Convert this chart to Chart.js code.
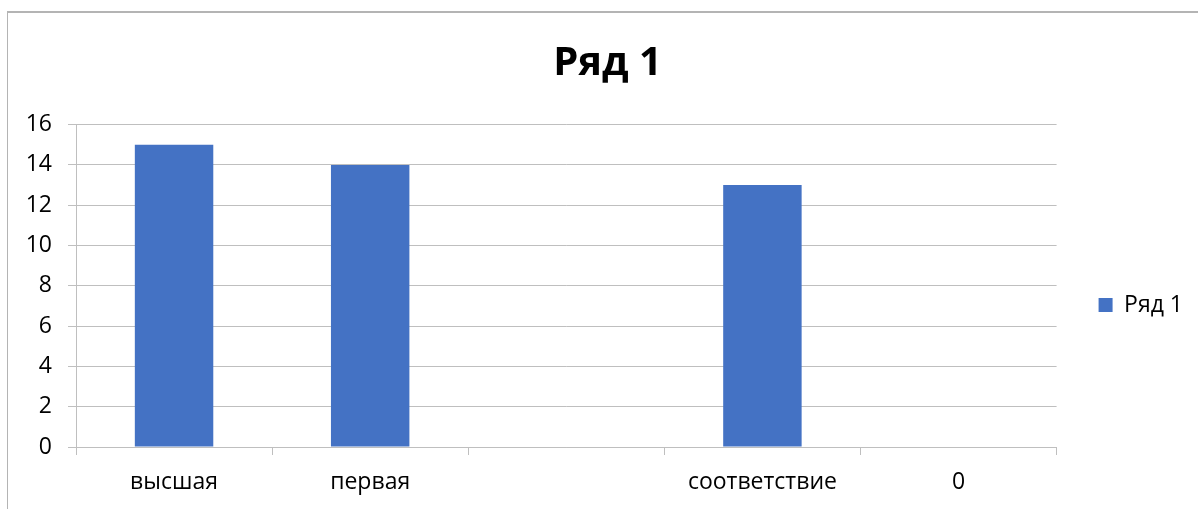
<!DOCTYPE html>
<html>
<head>
<meta charset="utf-8">
<script src="https://cdn.jsdelivr.net/npm/chart.js@4.4.1/dist/chart.umd.min.js"></script>
<style>
  html, body { margin: 0; padding: 0; background: #fff; overflow: hidden; }
  #frame { position: absolute; left: 7px; top: 11px; width: 1300px; height: 600px; border: 1px solid #b4b4b4; border-width: 2px 0 0 1px; }
  #wrap { position: absolute; left: 0; top: 0; width: 1198px; height: 509px; }
</style>
</head>
<body>
<div id="frame"></div>
<div id="wrap"><canvas id="grafica" width="1198" height="509"></canvas></div>
<script>
// datos del gráfico
const categorias = ['высшая', 'первая', '', 'соответствие', '0'];
const valores = [15, 14, null, 13, 0];
const nombreSerie = 'Ряд 1';
const ejeY = { min: 0, max: 16, paso: 2 };

const fuente = "'Open Sans', 'Noto Sans', sans-serif";
const gris = '#bfbfbf';

// el marco original es más ancho que la imagen: corrige título y leyenda
const ajustes = {
  id: 'ajustes',
  afterLayout(chart) {
    const t = chart.titleBlock;
    if (t) { t.left += 23; t.right += 23; }
    const l = chart.legend;
    if (l) { l.top += 45; l.bottom += 45; l.left += 32; l.right += 32; }
  }
};

const ctx = document.getElementById('grafica').getContext('2d');
const grafica = new Chart(ctx, {
  type: 'bar',
  data: {
    labels: categorias,
    datasets: [{
      label: nombreSerie,
      data: valores,
      backgroundColor: '#4472c4',
      borderWidth: 0,
      barPercentage: 0.4,
      categoryPercentage: 1
    }]
  },
  options: {
    responsive: false,
    animation: false,
    layout: { padding: { left: 8, top: 11, right: 37, bottom: 0 } },
    plugins: {
      title: {
        display: true,
        text: nombreSerie,
        color: '#000',
        font: { family: fuente, size: 40, weight: 'bold' },
        padding: { top: 29, bottom: 36.6 }
      },
      legend: {
        position: 'right',
        labels: {
          color: '#000',
          font: { family: fuente, size: 23 },
          boxWidth: 14,
          boxHeight: 14,
          padding: 10
        }
      },
      tooltip: { enabled: false }
    },
    scales: {
      x: {
        grid: { display: true, offset: true, drawOnChartArea: false, color: gris, tickLength: 8 },
        border: { color: gris, width: 1 },
        ticks: { color: '#000', font: { family: fuente, size: 23 }, padding: 14, maxRotation: 0 },
        afterFit: (s) => { s.height = 62; }
      },
      y: {
        min: ejeY.min,
        max: ejeY.max,
        grid: { color: gris, tickLength: 8 },
        border: { color: gris, width: 1 },
        ticks: { stepSize: ejeY.paso, color: '#000', font: { family: fuente, size: 23 }, padding: 16 },
        afterFit: (s) => { s.width = 68; }
      }
    }
  },
  plugins: [ajustes]
});
</script>
</body>
</html>
